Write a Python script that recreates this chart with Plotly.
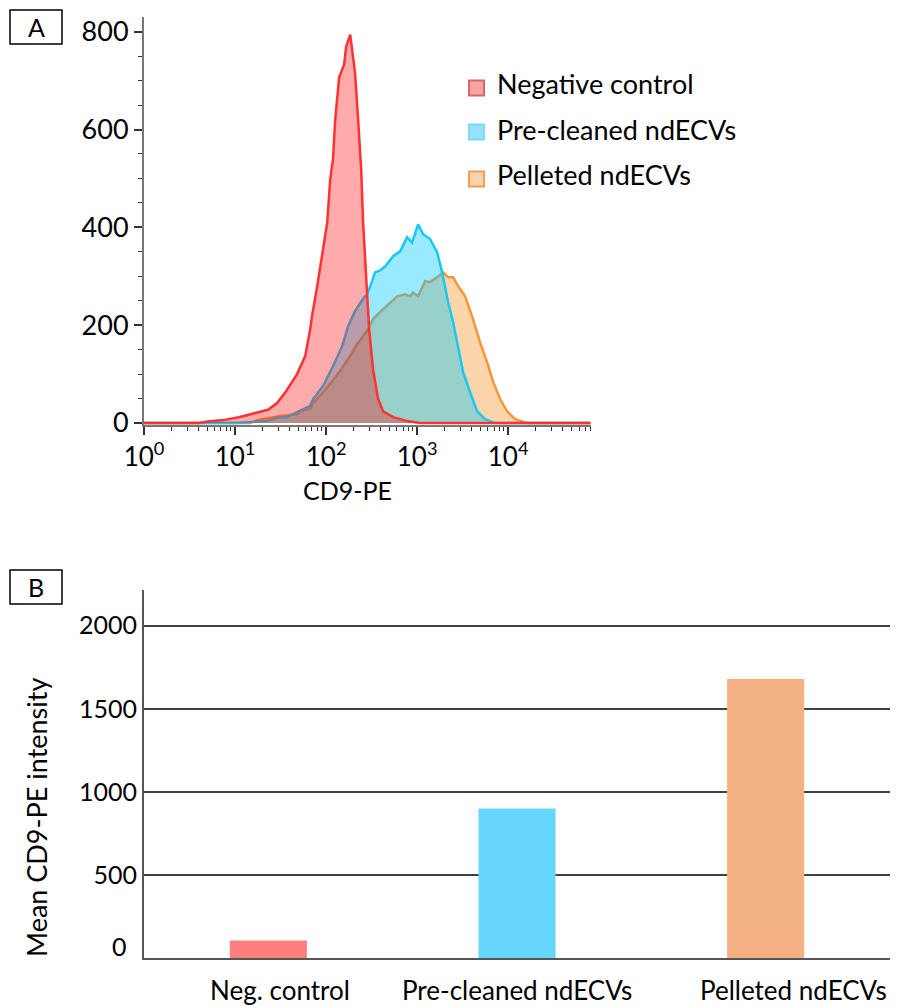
import plotly.graph_objects as go

# ---------------- data ----------------
# Panel A: histogram traces (CD9-PE fluorescence, counts)
neg_x = [1, 4, 5, 7.4, 11, 16, 23, 29, 37, 48, 59, 67, 70, 80, 90, 103, 111, 119, 126, 139,
         158, 166, 184, 208, 225, 243, 255, 282, 297, 328, 373, 423, 545, 776, 1080, 80000]
neg_y = [0, 0, 3, 6, 12, 20, 27, 41, 67, 100, 137, 192, 218, 280, 341, 410, 498, 539, 620, 706,
         733, 769, 794, 716, 620, 518, 410, 280, 192, 110, 49, 24, 12, 4, 0, 0]

pre_x = [1, 10.5, 22.5, 31, 37, 52, 67, 72, 93, 119, 150, 175, 208, 262, 282, 320, 345, 392,
         445, 545, 650, 776, 881, 1025, 1164, 1389, 1660, 1883, 2193, 2487, 2822, 3203, 3820,
         4563, 5587, 7200, 80000]
pre_y = [0, 0, 4, 12, 12, 25, 35, 49, 76, 116, 157, 198, 229, 257, 263, 290, 308, 312,
         320, 341, 351, 380, 369, 406, 386, 376, 349, 308, 247, 206, 151, 104, 63,
         24, 8, 0, 0]

pel_x = [1, 14.6, 17.5, 31, 48, 52, 67, 72, 103, 142, 184, 219, 282, 328, 392, 505, 603, 738,
         838, 903, 1025, 1225, 1389, 1660, 1932, 2193, 2487, 2822, 3368, 4019, 4921, 5878,
         6842, 8167, 9750, 11940, 16170, 80000]
pel_y = [0, 0, 6, 14, 18, 24, 29, 40, 73, 106, 137, 161, 188, 212, 227, 247, 259, 263,
         259, 267, 259, 290, 288, 298, 308, 298, 298, 280, 259, 218, 165, 124,
         84, 49, 24, 8, 0, 0]

hist_names = ["Negative control", "Pre-cleaned ndECVs", "Pelleted ndECVs"]
x_tick_vals = [1, 10, 100, 1000, 10000]
x_tick_text = ["10<sup>0</sup>", "10<sup>1</sup>", "10<sup>2</sup>", "10<sup>3</sup>", "10<sup>4</sup>"]

# Panel B: bar chart
bar_categories = ["Neg. control", "Pre-cleaned ndECVs", "Pelleted ndECVs"]
bar_values = [105, 900, 1680]
bar_y_ticks = [500, 1000, 1500, 2000]

# ---------------- helpers ----------------
W, H = 899, 1007
def px(x):
    return x / W
def py(y):
    return 1 - y / H

FONT = "Lato"
fig = go.Figure()

# order: pelleted (bottom), pre-cleaned, negative (top)
fig.add_trace(go.Scatter(x=pel_x, y=pel_y, mode="lines", fill="tozeroy",
                         line=dict(color="rgb(245,150,55)", width=2.5),
                         fillcolor="rgba(250,150,45,0.4)", name=hist_names[2],
                         showlegend=False, xaxis="x", yaxis="y"))
fig.add_trace(go.Scatter(x=pre_x, y=pre_y, mode="lines", fill="tozeroy",
                         line=dict(color="rgb(25,200,245)", width=2.5),
                         fillcolor="rgba(0,200,255,0.4)", name=hist_names[1],
                         showlegend=False, xaxis="x", yaxis="y"))
fig.add_trace(go.Scatter(x=neg_x, y=neg_y, mode="lines", fill="tozeroy",
                         line=dict(color="rgb(255,50,50)", width=2.5),
                         fillcolor="rgba(255,0,0,0.33)", name=hist_names[0],
                         showlegend=False, xaxis="x", yaxis="y"))

bar_colors = ["#FF7F7F", "#66D6FF", "#F4B183"]
fig.add_trace(go.Bar(x=bar_categories, y=bar_values, marker=dict(color=bar_colors, line=dict(width=0)),
                     showlegend=False, xaxis="x2", yaxis="y2"))

minor_vals = [m * 10 ** k for k in range(0, 5) for m in range(2, 10)]

fig.update_layout(
    template="none",
    width=W, height=H, autosize=False,
    margin=dict(l=0, r=0, t=0, b=0, pad=0, autoexpand=False),
    paper_bgcolor="white", plot_bgcolor="white",
    font=dict(family=FONT, color="black"),
    xaxis=dict(domain=[px(144), px(591)], type="log", range=[0, 4.91], automargin=False,
               tickmode="array", tickvals=x_tick_vals, ticktext=x_tick_text,
               ticks="outside", ticklen=8, tickwidth=1.5, tickcolor="#333",
               showline=True, linecolor="#777", linewidth=2,
               showgrid=False, zeroline=False,
               tickfont=dict(size=26, family=FONT),
               minor=dict(tickmode="array", tickvals=minor_vals, ticks="outside",
                          ticklen=4, tickwidth=1, tickcolor="#333", showgrid=False),
               anchor="y"),
    yaxis=dict(domain=[py(425), py(17)], range=[-4, 830], automargin=False,
               tickmode="linear", tick0=0, dtick=200,
               ticks="outside", ticklen=8, tickwidth=1.5, tickcolor="#333",
               showline=True, linecolor="#777", linewidth=2,
               showgrid=False, zeroline=False,
               tickfont=dict(size=27, family=FONT),
               minor=dict(dtick=50, ticks="outside", ticklen=4, tickwidth=1,
                          tickcolor="#333", showgrid=False),
               anchor="x"),
    xaxis2=dict(domain=[px(144), px(890)], showline=True, linecolor="#555", linewidth=2,
                automargin=False,
                showgrid=False, zeroline=False, showticklabels=False, ticks="",
                anchor="y2"),
    yaxis2=dict(domain=[py(958), py(590)], range=[0, 2215], automargin=False,
                tickmode="array", tickvals=bar_y_ticks,
                showline=True, linecolor="#555", linewidth=2,
                showgrid=True, gridcolor="#404040", gridwidth=1.8, zeroline=False,
                ticks="", tickfont=dict(size=25, family=FONT),
                anchor="x2"),
    bargap=0.69,
)

annotations = []
# x title panel A
annotations.append(dict(text="CD9-PE", x=px(347), y=py(490), xref="paper", yref="paper",
                        showarrow=False, font=dict(size=25, family=FONT),
                        xanchor="center", yanchor="middle"))
# legend panel A (manual)
leg_fill = ["#F5A5A5", "#96E1FF", "#FCD4AC"]
leg_line = ["#DD6666", "#80D8FA", "#F0A050"]
leg_sq_y = [88, 132, 179]
leg_tx_y = [84, 129, 174]
shapes = []
for i, name in enumerate(hist_names):
    shapes.append(dict(type="rect", xref="paper", yref="paper",
                       x0=px(469), x1=px(484), y0=py(leg_sq_y[i] + 7.5), y1=py(leg_sq_y[i] - 7.5),
                       fillcolor=leg_fill[i], line=dict(color=leg_line[i], width=2)))
    annotations.append(dict(text=name, x=px(495), y=py(leg_tx_y[i]), xref="paper", yref="paper",
                            showarrow=False, font=dict(size=27, family=FONT),
                            xanchor="left", yanchor="middle"))

# panel labels
for lab, (y0, y1) in zip(["A", "B"], [(10, 44), (570, 604)]):
    shapes.append(dict(type="rect", xref="paper", yref="paper",
                       x0=px(10), x1=px(62), y0=py(y1), y1=py(y0),
                       line=dict(color="black", width=1.5), fillcolor="rgba(0,0,0,0)"))
    annotations.append(dict(text=lab, x=px(36), y=py((y0 + y1) / 2), xref="paper", yref="paper",
                            showarrow=False, font=dict(size=25, family=FONT),
                            xanchor="center", yanchor="middle"))

# "0" label of panel B sits a little above the axis line in the reference
annotations.append(dict(text="0", x=px(129), y=py(946), xref="paper", yref="paper",
                        showarrow=False, font=dict(size=25, family=FONT),
                        xanchor="right", yanchor="middle"))

# y title panel B
annotations.append(dict(text="Mean CD9-PE intensity", x=px(36), y=py(818), xref="paper", yref="paper",
                        showarrow=False, textangle=-90, font=dict(size=27, family=FONT),
                        xanchor="center", yanchor="middle"))
# category labels panel B
cat_shift = [12, 0, 28]
for i, c in enumerate(bar_categories):
    annotations.append(dict(text=c, x=c, y=py(990), xref="x2", yref="paper",
                            showarrow=False, font=dict(size=26, family=FONT),
                            xanchor="center", yanchor="middle", xshift=cat_shift[i]))

fig.update_layout(annotations=annotations, shapes=shapes)
fig.write_html("out.html")
